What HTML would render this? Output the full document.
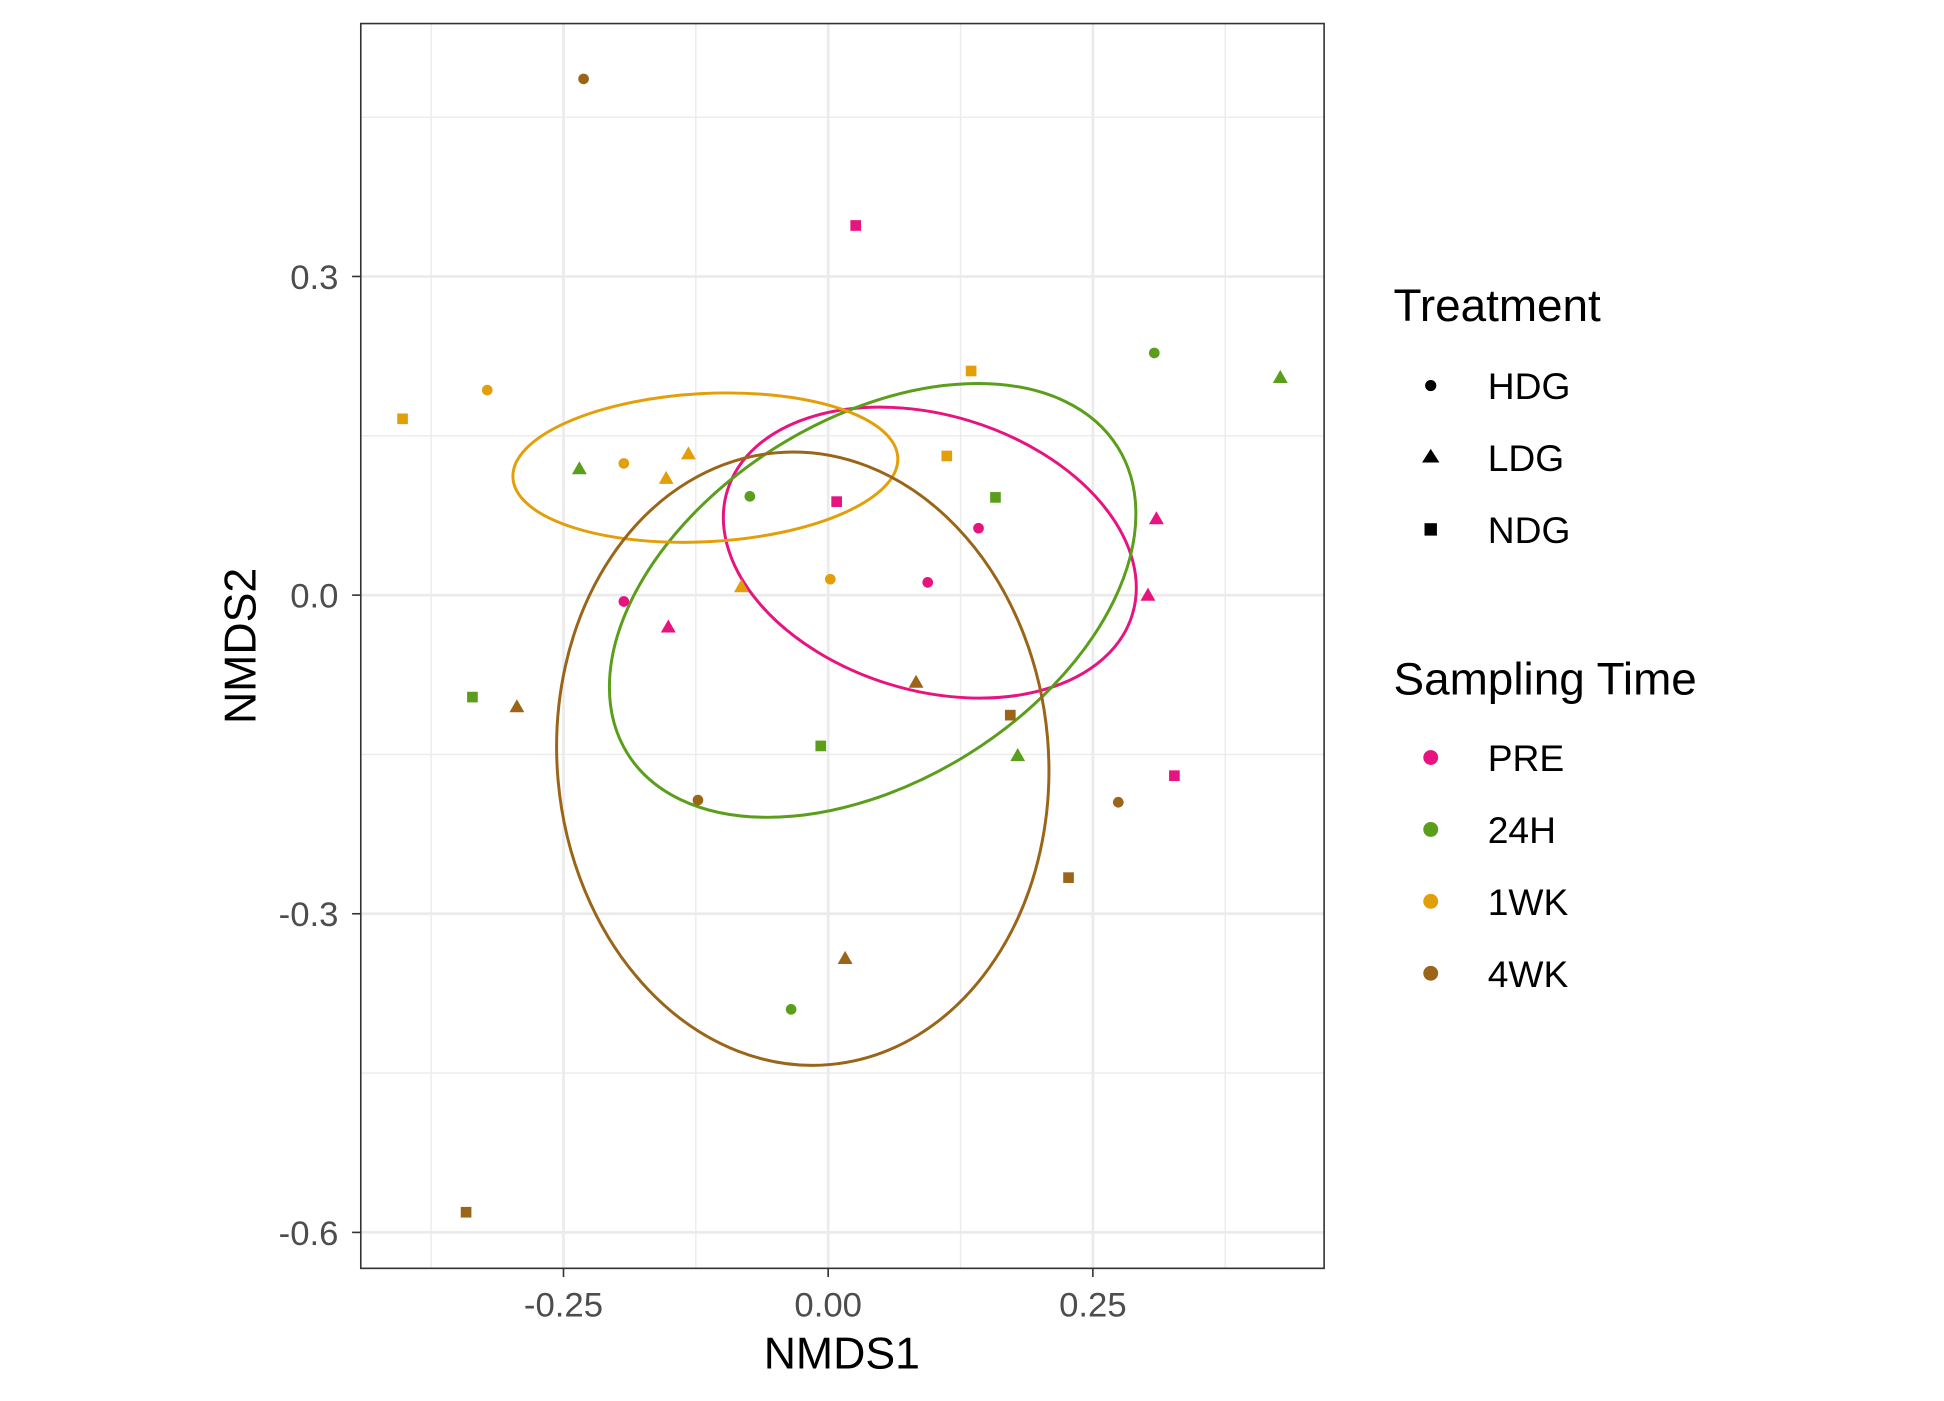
<!DOCTYPE html>
<html><head><meta charset="utf-8"><style>
html,body{margin:0;padding:0;background:#fff;}
svg{display:block;font-family:"Liberation Sans",Arial,sans-serif;}
</style></head><body>
<svg id="chart" width="1944" height="1401" viewBox="0 0 1568 1130" preserveAspectRatio="none" xmlns="http://www.w3.org/2000/svg">
<g id="grid"></g>
<g id="ellipses"></g>
<g id="points"></g>
<rect x="291" y="19" width="777" height="1004" fill="none" stroke="#333" stroke-width="1.3"/>
<g id="axes"></g>
<text x="679" y="1104" font-size="36" text-anchor="middle">NMDS1</text>
<text transform="translate(206,521) rotate(-90)" font-size="36" text-anchor="middle">NMDS2</text>
<g id="legend">
<text x="1124" y="259" font-size="37">Treatment</text>
<circle cx="1154" cy="311" r="4.5" fill="#000"/>
<text x="1200" y="322" font-size="30">HDG</text>
<path d="M1154,362 L1161,373 L1147,373 Z" fill="#000"/>
<text x="1200" y="380" font-size="30">LDG</text>
<rect x="1149" y="422" width="10" height="10" fill="#000"/>
<text x="1200" y="438" font-size="30">NDG</text>
<text x="1124" y="560" font-size="37">Sampling Time</text>
<circle cx="1154" cy="611" r="6" fill="#E7147F"/>
<text x="1200" y="622" font-size="30">PRE</text>
<circle cx="1154" cy="669" r="6" fill="#5A9E1B"/>
<text x="1200" y="680" font-size="30">24H</text>
<circle cx="1154" cy="727" r="6" fill="#E39F0A"/>
<text x="1200" y="738" font-size="30">1WK</text>
<circle cx="1154" cy="785" r="6" fill="#9A6518"/>
<text x="1200" y="796" font-size="30">4WK</text>
</g>
</svg>
<script>
const groups = ["PRE","24H","1WK","4WK"];
const groupColors = ["#E7147F","#5A9E1B","#E39F0A","#9A6518"];
const xTicks = [-0.25,0,0.25];
const xTickLabels = ["-0.25","0.00","0.25"];
const yTicks = [0.3,0,-0.3,-0.6];
const yTickLabels = ["0.3","0.0","-0.3","-0.6"];
const ptGroup = [0,0,0,0,0,0,0,0,0, 1,1,1,1,1,1,1,1,1, 2,2,2,2,2,2,2,2,2, 3,3,3,3,3,3,3,3,3];
const ptShape = ["s","c","t","s","c","t","c","t","s", "c","t","t","c","s","s","s","t","c", "s","c","c","t","t","s","s","c","t", "c","t","t","s","c","c","s","t","s"];
const ptX = [0.026,0.142,0.310,0.008,0.094,0.302,-0.193,-0.151,0.327, 0.308,0.427,-0.235,-0.074,0.158,-0.336,-0.007,0.179,-0.035, -0.402,-0.322,-0.193,-0.153,-0.132,0.135,0.112,0.002,-0.082, -0.231,-0.294,0.083,0.172,-0.123,0.274,0.227,0.016,-0.342];
const ptY = [0.348,0.063,0.072,0.088,0.012,0.0,-0.006,-0.030,-0.170, 0.228,0.205,0.119,0.093,0.092,-0.096,-0.142,-0.151,-0.390, 0.166,0.193,0.124,0.110,0.133,0.211,0.131,0.015,0.008, 0.486,-0.105,-0.082,-0.113,-0.193,-0.195,-0.266,-0.342,-0.581];
const ellCx = [0.096,0.042,-0.116,-0.024];
const ellCy = [0.040,-0.005,0.120,-0.154];
const ellA = [0.200,0.273,0.182,0.290];
const ellB = [0.130,0.171,0.070,0.232];
const ellAng = [17,-32,-3,85];

const NS="http://www.w3.org/2000/svg";
const sx = v => 668 + v*854;
const sy = v => 480 - v*856.7;
function mk(tag, attrs, parent){const e=document.createElementNS(NS,tag);for(const k in attrs)e.setAttribute(k,attrs[k]);parent.appendChild(e);return e;}
const grid=document.getElementById('grid'), axes=document.getElementById('axes');
mk('rect',{x:291,y:19,width:777,height:1004,fill:'#fff'},grid);
[-0.375,-0.125,0.125,0.375].forEach(v=>{const l=mk('line',{x1:sx(v),x2:sx(v),y1:19,y2:1023,stroke:'#EBEBEB','stroke-width':1.1},grid);

});
[0.45,0.15,-0.15,-0.45].forEach(v=>{const l=mk('line',{y1:sy(v),y2:sy(v),x1:291,x2:1068,stroke:'#EBEBEB','stroke-width':1.1},grid);

});
xTicks.forEach((v,i)=>{const l=mk('line',{x1:sx(v),x2:sx(v),y1:19,y2:1023,stroke:'#EBEBEB','stroke-width':2.2},grid);


mk('line',{x1:sx(v),x2:sx(v),y1:1023,y2:1030,stroke:'#333','stroke-width':1.3},axes);
const t=mk('text',{x:sx(v),y:1062,'font-size':28,'text-anchor':'middle',fill:'#4D4D4D'},axes);t.textContent=xTickLabels[i];

});
yTicks.forEach((v,i)=>{const l=mk('line',{y1:sy(v),y2:sy(v),x1:291,x2:1068,stroke:'#EBEBEB','stroke-width':2.2},grid);


mk('line',{y1:sy(v),y2:sy(v),x1:284,x2:291,stroke:'#333','stroke-width':1.3},axes);
const t=mk('text',{x:273,y:sy(v)+10,'font-size':28,'text-anchor':'end',fill:'#4D4D4D'},axes);t.textContent=yTickLabels[i];

});
const eg=document.getElementById('ellipses');
groups.forEach((g,i)=>{const e=mk('ellipse',{cx:0,cy:0,rx:ellA[i]*854,ry:ellB[i]*854,fill:'none',stroke:groupColors[i],'stroke-width':2.4,
transform:`translate(${sx(ellCx[i])},${sy(ellCy[i])}) rotate(${ellAng[i]})`},eg);

});
const pg=document.getElementById('points');
ptX.forEach((x,i)=>{const px=sx(x),py=sy(ptY[i]),c=groupColors[ptGroup[i]];let e;
if(ptShape[i]==='c')e=mk('circle',{cx:px,cy:py,r:4.3,fill:c},pg);
else if(ptShape[i]==='t')e=mk('path',{d:`M${px},${py-6} L${px+6},${py+4.5} L${px-6},${py+4.5} Z`,fill:c},pg);
else e=mk('rect',{x:px-4.3,y:py-4.3,width:8.6,height:8.6,fill:c},pg);

});
</script>
</body></html>
